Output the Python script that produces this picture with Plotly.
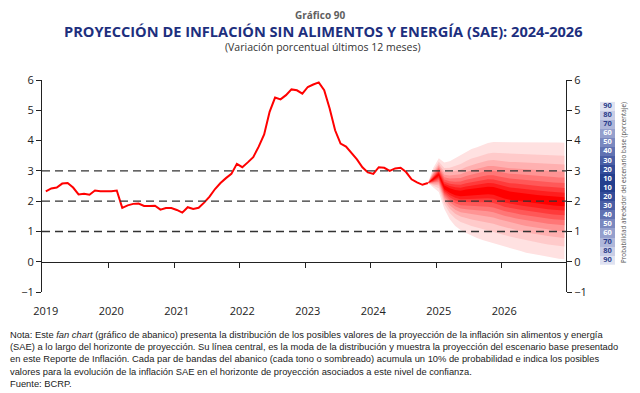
import plotly.graph_objects as go
from statistics import NormalDist

# ---------------- data ----------------
years = [2019, 2020, 2021, 2022, 2023, 2024, 2025, 2026]

# SAE inflation, 12-month % change, monthly from Jan-2019 to Nov-2024
hist_values = [2.32, 2.42, 2.45, 2.58, 2.60, 2.45, 2.22, 2.24, 2.21, 2.35, 2.33, 2.32,
               2.33, 2.35, 1.78, 1.86, 1.91, 1.92, 1.84, 1.84, 1.85, 1.72, 1.77, 1.77,
               1.71, 1.62, 1.80, 1.74, 1.78, 1.95, 2.15, 2.40, 2.60, 2.76, 2.90, 3.23,
               3.12, 3.28, 3.45, 3.80, 4.20, 4.95, 5.42, 5.36, 5.50, 5.69, 5.66, 5.55,
               5.77, 5.85, 5.92, 5.66, 5.06, 4.34, 3.90, 3.80, 3.60, 3.38, 3.12, 2.95,
               2.90, 3.12, 3.10, 3.00, 3.08, 3.10, 2.96, 2.72, 2.62, 2.54, 2.60]

# Fan chart, monthly from Nov-2024 to Dec-2026
fan_mode = [2.60, 2.72, 2.88, 2.45, 2.35, 2.28, 2.25, 2.28, 2.30, 2.32, 2.34, 2.36, 2.34,
            2.28, 2.22, 2.18, 2.16, 2.13, 2.10, 2.08, 2.06, 2.04, 2.02, 2.00, 1.98, 1.98]
fan_upper90 = [2.60, 3.10, 3.42, 3.28, 3.32, 3.42, 3.50, 3.62, 3.72, 3.78, 3.85, 3.92, 3.95,
               3.95, 3.95, 3.95, 3.96, 3.96, 3.96, 3.96, 3.95, 3.95, 3.95, 3.94, 3.94, 3.93]
fan_lower90 = [2.60, 2.45, 2.30, 1.75, 1.40, 1.18, 1.05, 0.95, 0.86, 0.78, 0.72, 0.66, 0.62,
               0.56, 0.50, 0.45, 0.40, 0.35, 0.30, 0.27, 0.23, 0.19, 0.16, 0.13, 0.10, 0.08]

band_probs = [10, 20, 30, 40, 50, 60, 70, 80, 90]
band_colors = ["#ff0000", "#ff1d1d", "#ff3a3a", "#ff5858", "#ff7676",
               "#ff9494", "#ffb0b0", "#ffcaca", "#ffe1e1"]

ref_levels = [1, 2, 3]
y_ticks = [-1, 0, 1, 2, 3, 4, 5, 6]

legend_levels = [90, 80, 70, 60, 50, 40, 30, 20, 10, 10, 20, 30, 40, 50, 60, 70, 80, 90]
legend_blues = {10: "#243f8e", 20: "#344c99", 30: "#4a5ea5", 40: "#6172b2", 50: "#7a88bf",
                60: "#95a0cd", 70: "#afb7da", 80: "#c8cde6", 90: "#dfe2f1"}
legend_text_colors = {10: "white", 20: "white", 30: "white", 40: "white", 50: "white",
                      60: "white", 70: "#2c3e8c", 80: "#2c3e8c", 90: "#2c3e8c"}

note_lines = [
    "Nota: Este <i>fan chart</i> (gráfico de abanico) presenta la distribución de los posibles valores de la proyección de la inflación sin alimentos y energía",
    "(SAE) a lo largo del horizonte de proyección. Su línea central, es la moda de la distribución y muestra la proyección del escenario base presentado",
    "en este Reporte de Inflación. Cada par de bandas del abanico (cada tono o sombreado) acumula un 10% de probabilidad e indica los posibles",
    "valores para la evolución de la inflación SAE en el horizonte de proyección asociados a este nivel de confianza.",
    "Fuente: BCRP.",
]

# ---------------- layout geometry ----------------
# the page body adds an 8px offset, so the figure is 8px smaller and all
# positions below are given in window pixels
OFF = 8
W, H = 640 - OFF, 393 - OFF
PLOT_L, PLOT_R, PLOT_T, PLOT_B = 42, 630, 80, 292
L, R, T, B = PLOT_L - OFF, 640 - PLOT_R, PLOT_T - OFF, 393 - PLOT_B
PW, PH = PLOT_R - PLOT_L, PLOT_B - PLOT_T


def px_x(px):
    return (px - PLOT_L) / PW


def px_y(py):
    return (PLOT_B - py) / PH


hist_months = list(range(len(hist_values)))
fan_start = len(hist_values) - 1
fan_months = list(range(fan_start, fan_start + len(fan_mode)))
x_range = [-0.7, fan_months[-1] + 0.3]
year_pos = [(y - years[0]) * 12 for y in years]
year_breaks = [p - 0.5 for p in year_pos[1:]]

nd = NormalDist()
z90 = nd.inv_cdf(0.5 + band_probs[-1] / 200)

fig = go.Figure()

# fan bands, outermost first
for p, col in sorted(zip(band_probs, band_colors), reverse=True):
    f = nd.inv_cdf(0.5 + p / 200) / z90
    up = [m + (u - m) * f for m, u in zip(fan_mode, fan_upper90)]
    lo = [m - (m - l) * f for m, l in zip(fan_mode, fan_lower90)]
    fig.add_trace(go.Scatter(
        x=fan_months + fan_months[::-1], y=up + lo[::-1],
        fill="toself", fillcolor=col, mode="lines", line=dict(width=0),
        hoverinfo="skip", showlegend=False))

# historical line
fig.add_trace(go.Scatter(x=hist_months, y=hist_values, mode="lines",
                         line=dict(color="#ff0000", width=2), showlegend=False))

# carrier traces for the extra axes (invisible)
fig.add_trace(go.Scatter(x=hist_months, y=hist_values, xaxis="x2", yaxis="y",
                         mode="lines", line=dict(width=0), opacity=0,
                         hoverinfo="skip", showlegend=False))
fig.add_trace(go.Scatter(x=hist_months, y=hist_values, xaxis="x", yaxis="y2",
                         mode="lines", line=dict(width=0), opacity=0,
                         hoverinfo="skip", showlegend=False))

# probability legend (heatmap column + labels)
lv_sorted = sorted(legend_blues)
zmin, zmax = lv_sorted[0], lv_sorted[-1]
cscale = [[(v - zmin) / (zmax - zmin), legend_blues[v]] for v in lv_sorted]
rows = list(range(len(legend_levels)))
fig.add_trace(go.Heatmap(z=[[v] for v in legend_levels], x=[0], y=rows,
                         colorscale=cscale, zmin=zmin, zmax=zmax, showscale=False,
                         xaxis="x3", yaxis="y3", hoverinfo="skip"))
fig.add_trace(go.Scatter(x=[0] * len(rows), y=rows, mode="text",
                         text=["<b>%d</b>" % v for v in legend_levels],
                         textfont=dict(size=7.5, family="Open Sans",
                                       color=[legend_text_colors[v] for v in legend_levels]),
                         xaxis="x3", yaxis="y3", hoverinfo="skip", showlegend=False))

# reference dashed lines
for lvl in ref_levels:
    fig.add_hline(y=lvl, line=dict(color="#333333", width=1.4, dash="8px,5px"), layer="above")

tickfont = dict(family="Open Sans", size=11, color="#222222")
main_dom = [0, px_x(566)]

fig.update_layout(
    width=W, height=H, margin=dict(l=L, r=R, t=T, b=B),
    paper_bgcolor="white", plot_bgcolor="white",
    showlegend=False,
    xaxis=dict(domain=main_dom, range=x_range, tickvals=year_pos,
               ticktext=[str(y) for y in years], showline=False, showgrid=False,
               zeroline=False, ticks="", tickfont=tickfont, ticklabelstandoff=11),
    xaxis2=dict(overlaying="x", anchor="free", position=px_y(261.5), range=x_range,
                domain=main_dom,
                tickvals=year_breaks, showticklabels=False, ticks="outside", ticklen=5,
                tickcolor="#222222", showline=True, linecolor="#222222", linewidth=1,
                showgrid=False, zeroline=False),
    yaxis=dict(range=[-1, 6], tickvals=y_ticks, ticks="outside", ticklen=5,
               tickcolor="#222222", showline=True, linecolor="#222222", linewidth=1,
               showgrid=False, zeroline=False, tickfont=tickfont),
    yaxis2=dict(overlaying="y", side="right", anchor="x", range=[-1, 6], tickvals=y_ticks,
                ticks="outside", ticklen=5, tickcolor="#222222", showline=True,
                linecolor="#222222", linewidth=1, showgrid=False, zeroline=False,
                tickfont=tickfont),
    xaxis3=dict(domain=[px_x(600), px_x(615)], anchor="y3", range=[-0.5, 0.5],
                visible=False),
    yaxis3=dict(domain=[px_y(265), px_y(101.7)], anchor="x3",
                range=[len(rows) - 0.5, -0.5], visible=False),
)

note_font = dict(family="Liberation Sans", size=9.35, color="#222222")

ann = []
ann.append(dict(text="<b>Gráfico 90</b>", x=px_x(320), y=px_y(14.5), xref="paper", yref="paper",
                showarrow=False, xanchor="center", yanchor="middle", borderpad=0,
                font=dict(family="Open Sans", size=10, color="#5f5f5f")))
ann.append(dict(text="<b>PROYECCIÓN DE INFLACIÓN SIN ALIMENTOS Y ENERGÍA (SAE): 2024-2026</b>",
                x=px_x(323), y=px_y(30.5), xref="paper", yref="paper", showarrow=False,
                xanchor="center", yanchor="middle", borderpad=0,
                font=dict(family="Open Sans", size=14.6, color="#1d2f7e")))
ann.append(dict(text="(Variación porcentual últimos 12 meses)", x=px_x(323), y=px_y(47),
                xref="paper", yref="paper", showarrow=False, xanchor="center",
                yanchor="middle", borderpad=0,
                font=dict(family="Open Sans", size=10.5, color="#333333")))
ann.append(dict(text="Probabilidad alrededor del escenario base (porcentaje)",
                x=px_x(623), y=px_y(183), xref="paper", yref="paper", showarrow=False,
                textangle=-90, xanchor="center", yanchor="middle",
                font=dict(family="Open Sans", size=6.3, color="#555555")))
for i, line in enumerate(note_lines):
    ann.append(dict(text=line, x=px_x(8), y=px_y(335 + 12.2 * i), xref="paper",
                    yref="paper", showarrow=False, xanchor="left", yanchor="middle",
                    font=note_font))
fig.update_layout(annotations=ann)

fig.write_html("out.html")
